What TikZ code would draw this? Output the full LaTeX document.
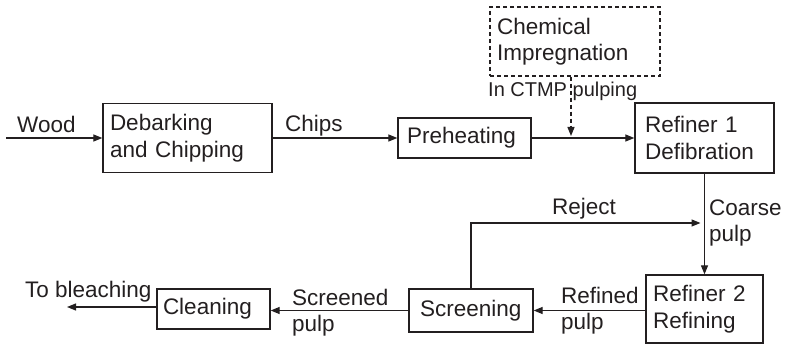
\documentclass[tikz,border=0pt]{standalone}
\usepackage{fontspec}
\setmainfont{Liberation Sans}
\usetikzlibrary{arrows.meta}
\definecolor{ink}{RGB}{35,31,32}
\begin{document}
\begin{tikzpicture}[x=1pt,y=-1pt,
  every node/.style={text=ink, font=\fontsize{22.5}{26.5}\selectfont},
  box/.style={draw=ink, line width=1.3pt, align=left, inner ysep=0pt},
  flow/.style={draw=ink, line width=1.2pt, -{Triangle[length=9pt,width=7pt]}},
  lbl/.style={inner sep=0pt}]
\useasboundingbox (0,0) rectangle (787,344);

% process steps
\node[box, minimum width=169pt, minimum height=69pt, text width=155pt, inner xsep=7pt]
  (deb) at (187.5,138) {Debarking\\and Chipping};
\node[box, minimum width=133pt, minimum height=40pt, text width=115pt, inner xsep=9pt]
  (pre) at (464.5,138) {Preheating};
\node[box, minimum width=139pt, minimum height=70pt, text width=119pt, inner xsep=10pt]
  (ref1) at (704.5,138) {Refiner 1\\Defibration};
\node[box, dash pattern=on 4pt off 3pt, minimum width=170pt, minimum height=69pt, text width=156pt, inner xsep=7pt]
  (chem) at (575,41.5) {Chemical\\Impregnation};
\node[box, minimum width=117pt, minimum height=68pt, text width=103pt, inner xsep=7pt]
  (ref2) at (704.5,309) {Refiner 2\\Refining};
\node[box, minimum width=124pt, minimum height=43pt, text width=102pt, inner xsep=11pt]
  (scr) at (471,310.5) {Screening};
\node[box, minimum width=113pt, minimum height=40pt, text width=101pt, inner xsep=6pt]
  (cln) at (213.5,309) {Cleaning};

% free ends and junctions
\coordinate (wood) at (6,138);
\coordinate (out) at (67,307);
\coordinate (rejlvl) at (0,223);
\coordinate (merge) at ([xshift=-4pt]ref1.south |- rejlvl);
\coordinate (inj) at ([xshift=-4pt,yshift=2pt]chem.south |- pre.east);

% connectors
\draw[flow] (wood) -- (deb.west);
\draw[flow] (deb.east) -- (pre.west);
\draw[flow] (pre.east) -- (ref1.west);
\draw[flow, dash pattern=on 4pt off 3pt] ([xshift=-4pt]chem.south) -- (inj);
\draw[flow] (ref1.south) -- (ref2.north);
\draw[flow] (scr.north) |- (merge);
\draw[flow] (ref2.west |- scr.east) -- (scr.east);
\draw[flow] (scr.west) -- (scr.west -| cln.east);
\draw[flow] (cln.west |- out) -- (out);

% stream labels
\node[lbl, anchor=base west] (lwood) at (17,133) {Wood};
\node[lbl, anchor=base west] (lchips) at (285,132) {Chips};
\node[lbl, anchor=base west, font=\fontsize{20}{24}\selectfont] (lctmp) at (488,97) {In CTMP pulping};
\node[lbl, anchor=base west] (lrej) at (552,215) {Reject};
\node[lbl, anchor=north west, align=left] (lcoarse) at (709,199.5) {Coarse\\pulp};
\node[lbl, anchor=north west, align=left] (lrefined) at (561,286.5) {Refined\\pulp};
\node[lbl, anchor=north west, align=left] (lscreened) at (292,288.5) {Screened\\pulp};
\node[lbl, anchor=base west] (lbleach) at (25,298) {To bleaching};
\end{tikzpicture}
\end{document}
